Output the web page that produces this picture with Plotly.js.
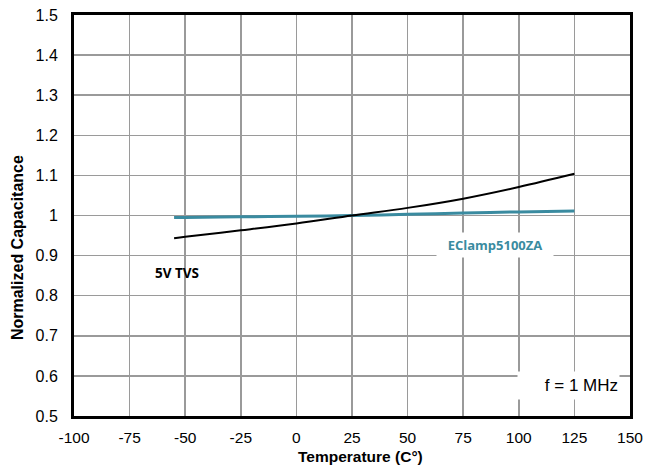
<!DOCTYPE html>
<html><head><meta charset="utf-8">
<script src="https://cdn.plot.ly/plotly-3.0.1.min.js"></script>
<style>body{margin:0;background:#fff}#c{width:654px;height:465px}</style>
</head><body><div id="c"></div>
<script>
const temps = [-55, -50, -25, 0, 25, 50, 75, 100, 125];
const tvs5v = [0.943, 0.947, 0.963, 0.980, 1.000, 1.019, 1.042, 1.071, 1.104];
const eclamp = [0.995, 0.9953, 0.9967, 0.998, 1.000, 1.003, 1.006, 1.009, 1.0115];
const xTicks = [-100, -75, -50, -25, 0, 25, 50, 75, 100, 125, 150];
const yTicks = [0.5, 0.6, 0.7, 0.8, 0.9, 1, 1.1, 1.2, 1.3, 1.4, 1.5];
const yTickText = ['0.5','0.6','0.7','0.8','0.9','1','1.1','1.2','1.3','1.4','1.5'];
const xTitle = 'Temperature (C°)';
const yTitle = 'Normalized Capacitance';

const traces = [
  {x: temps, y: eclamp, mode: 'lines', line: {color: '#3a8ba0', width: 3, shape: 'spline'}, name: 'EClamp5100ZA'},
  {x: temps, y: tvs5v, mode: 'lines', line: {color: '#000', width: 2, shape: 'spline'}, name: '5V TVS'}
];
const layout = {
  width: 654, height: 465,
  margin: {l: 74, r: 24, t: 15, b: 49},
  showlegend: false,
  paper_bgcolor: '#fff', plot_bgcolor: '#fff',
  font: {family: 'Liberation Sans, Arial, sans-serif', size: 16, color: '#000'},
  xaxis: {range: [-100, 150], tickvals: xTicks, ticktext: xTicks.map(String),
    showgrid: true, gridcolor: '#9a9a9a', gridwidth: 1.5, zeroline: false,
    showline: true, linecolor: '#000', linewidth: 3, mirror: true, ticks: '',
    ticklabelstandoff: 5, automargin: false,
    tickfont: {size: 15.5}, fixedrange: true},
  yaxis: {range: [0.5, 1.5], tickvals: yTicks, ticktext: yTickText,
    showgrid: true, gridcolor: '#9a9a9a', gridwidth: 1.5, zeroline: false,
    showline: true, linecolor: '#000', linewidth: 3, mirror: true, ticks: '',
    ticklabelstandoff: 10, automargin: false,
    tickfont: {size: 16}, fixedrange: true},
  annotations: [
    {xref: 'paper', yref: 'paper', x: 0.516, y: -0.1, xanchor: 'center', yanchor: 'middle',
     text: '<b>' + xTitle + '</b>', showarrow: false, font: {size: 15.5}},
    {xref: 'paper', yref: 'paper', x: 0, xshift: -56.5, y: 0.42, xanchor: 'center', yanchor: 'middle',
     textangle: -90, text: '<b>' + yTitle + '</b>', showarrow: false, font: {size: 16}},
    {x: -53.7, y: 0.857, xref: 'x', yref: 'y', text: '<b>5V TVS</b>', showarrow: false,
     font: {family: 'Open Sans, sans-serif', size: 13.5, color: '#000'}},
    {x: 89.3, y: 0.9264, xref: 'x', yref: 'y', text: '<b>EClamp5100ZA</b>', showarrow: false,
     bgcolor: '#fff', width: 114, height: 22, borderpad: 1,
     font: {family: 'Open Sans, sans-serif', size: 13, color: '#3a8ba0'}},
    {x: 122.3, y: 0.576, xref: 'x', yref: 'y', text: 'f = 1 MHz', showarrow: false,
     bgcolor: '#fff', width: 99, height: 25, borderpad: 1, align: 'right',
     font: {size: 17, color: '#000'}}
  ]
};
Plotly.newPlot('c', traces, layout, {displayModeBar: false, staticPlot: true});
</script></body></html>
